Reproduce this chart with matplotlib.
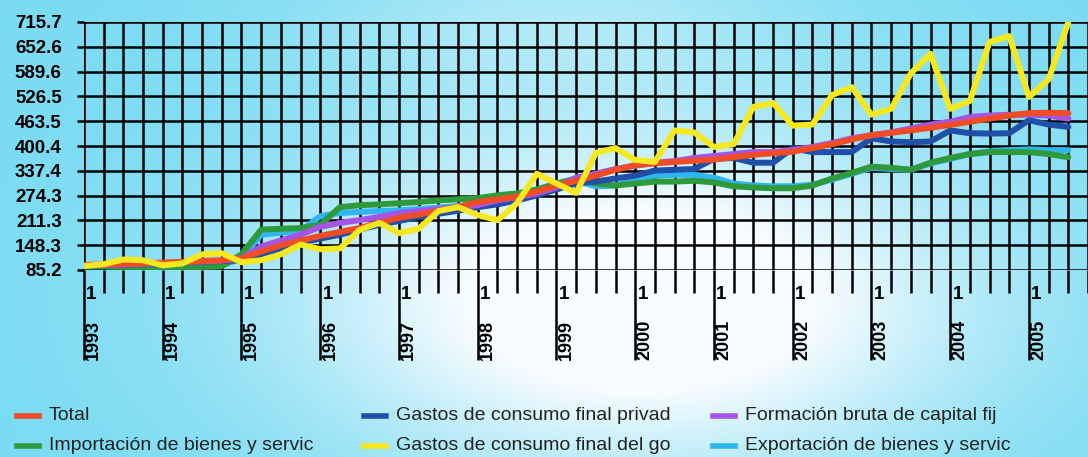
import numpy as np
import matplotlib
matplotlib.use('Agg')
import matplotlib.pyplot as plt
from matplotlib.lines import Line2D
import matplotlib.transforms as mtransforms

# quarterly index, 1993 Q1 .. 2005 Q3
years = list(range(1993, 2006))
quarter_label = '1'
y_ticks = [85.2, 148.3, 211.3, 274.3, 337.4, 400.4, 463.5, 526.5, 589.6, 652.6, 715.7]

total = [98, 99, 100, 102, 104, 106, 108, 110, 115, 132, 148, 160, 172, 182, 192, 205,
         218, 226, 236, 246, 258, 265, 272, 285, 300, 312, 325, 340, 352, 356, 360, 363,
         366, 372, 378, 382, 386, 395, 405, 417, 428, 434, 440, 447, 454, 462, 470, 478,
         484, 485, 484]
privado = [97, 98, 99, 100, 102, 104, 106, 108, 110, 125, 140, 155, 165, 175, 188, 200,
           210, 220, 228, 236, 245, 252, 262, 275, 290, 305, 310, 318, 325, 338, 340, 342,
           368, 370, 358, 358, 395, 385, 385, 385, 420, 412, 410, 412, 440, 433, 432, 433,
           466, 455, 449]
formacion = [97, 98, 99, 101, 103, 105, 107, 109, 115, 145, 160, 175, 195, 205, 212, 220,
             230, 235, 240, 245, 250, 262, 270, 280, 295, 320, 330, 342, 350, 358, 362, 370,
             375, 380, 385, 385, 390, 398, 408, 420, 428, 435, 445, 455, 462, 474, 478, 480,
             480, 478, 470]
importacion = [95, 95, 94, 93, 93, 92, 93, 95, 125, 188, 190, 192, 200, 245, 250, 252,
               255, 258, 262, 265, 268, 275, 280, 290, 305, 318, 305, 300, 305, 310, 310, 312,
               308, 298, 295, 293, 293, 300, 318, 332, 348, 345, 340, 358, 370, 380, 385, 385,
               385, 380, 372]
gobierno = [95, 100, 112, 110, 97, 102, 125, 128, 105, 110, 125, 150, 138, 140, 187, 205,
            179, 190, 235, 245, 225, 212, 255, 330, 305, 281, 383, 395, 365, 360, 440, 435,
            398, 405, 500, 510, 452, 455, 530, 550, 480, 495, 585, 635, 495, 515, 665, 680,
            525, 570, 715]
exportacion = [95, 95, 94, 94, 94, 94, 95, 97, 115, 175, 180, 185, 222, 230, 233, 235,
               237, 240, 244, 248, 250, 260, 268, 280, 295, 312, 298, 300, 315, 325, 327, 327,
               320, 305, 300, 298, 298, 302, 315, 330, 345, 342, 340, 356, 368, 380, 387, 390,
               392, 390, 390]

series = [
    ('Exportación de bienes y servic', exportacion, '#2fb6ee'),
    ('Importación de bienes y servic', importacion, '#2e9a3c'),
    ('Gastos de consumo final privad', privado, '#1f4fa6'),
    ('Formación bruta de capital fij', formacion, '#a654e6'),
    ('Total', total, '#f04c26'),
    ('Gastos de consumo final del go', gobierno, '#f6e81e'),
]

W, H = 1088, 457
fig = plt.figure(figsize=(W / 100, H / 100), dpi=100)

# background: cyan with a white glow in the middle
bg = fig.add_axes([0, 0, 1, 1], zorder=-10)
xx, yy = np.meshgrid(np.arange(W), np.arange(H))
glow = np.exp(-((xx - 640) / 330.0) ** 2 - ((yy - 300) / 170.0) ** 2) * 1.3
glow += np.exp(-((xx - 560) / 260.0) ** 2 - ((yy - 20) / 80.0) ** 2) * 0.35
glow = np.clip(glow, 0, 1)
base = np.array([0.48, 0.86, 0.95])
img = base[None, None, :] * (1 - glow[..., None]) + np.array([0.98, 0.99, 1.0]) * glow[..., None]
bg.imshow(img, extent=[0, W, H, 0], aspect='auto')
bg.axis('off')

left = 84 / W
ax = fig.add_axes([left, 1 - 270 / H, 1 - left, 248 / H])
ax.set_facecolor('none')
x = np.arange(len(total))
z = 2
for name, vals, col in series:
    ax.plot(x, vals, color=col, lw=4.3, solid_capstyle='round', zorder=z)
    z += 1

ax.set_xlim(0, (W - 84) / 19.84)
ax.set_ylim(y_ticks[0], y_ticks[-1])
for s in ax.spines.values():
    s.set_visible(False)

ax.set_yticks(y_ticks)
ax.set_yticklabels([f'{v:.1f}' for v in y_ticks], fontfamily='Liberation Sans',
                   fontweight='bold', fontsize=13.5)
ax.tick_params(axis='y', length=5, width=1.8, pad=11, color='black')

ax.set_xticks(np.arange(0, len(total), 4))
ax.set_xticks(np.arange(0, len(total) + 1), minor=True)
ax.set_xticklabels([])
ax.tick_params(axis='x', which='major', length=65, width=1.8, color='black')
ax.tick_params(axis='x', which='minor', length=16.5, width=1.8, color='black')
ax.grid(True, which='both', axis='x', color='black', lw=1.8, zorder=1)
ax.grid(True, which='major', axis='y', color='black', lw=1.8, zorder=1)
ax.set_axisbelow(True)

trans = mtransforms.blended_transform_factory(ax.transData, ax.transAxes)
for k, yr in enumerate(years):
    ax.text(k * 4 + 0.38, -0.1, quarter_label, transform=trans, ha='center', va='center',
            fontfamily='Liberation Sans', fontweight='bold', fontsize=13.5)
    ax.text(k * 4 + 0.5, -0.2, str(yr), transform=trans, ha='center', va='top',
            rotation=90, fontfamily='Liberation Sans', fontweight='bold', fontsize=13)

# legend, three columns of two rows
legend_items = [
    ('Total', '#f04c26', 17, 416),
    ('Importación de bienes y servic', '#2e9a3c', 17, 446),
    ('Gastos de consumo final privad', '#1f4fa6', 364, 416),
    ('Gastos de consumo final del go', '#f6e81e', 364, 446),
    ('Formación bruta de capital fij', '#a654e6', 713, 416),
    ('Exportación de bienes y servic', '#2fb6ee', 713, 446),
]
for label, col, px, py in legend_items:
    fig.add_artist(Line2D([px / W, (px + 22) / W], [1 - py / H, 1 - py / H],
                          color=col, lw=4, transform=fig.transFigure))
    fig.text((px + 32) / W, 1 - py / H, label, ha='left', va='center',
             fontfamily='Liberation Sans', fontsize=14, color='#222222')

fig.savefig('out.png', dpi=100)
